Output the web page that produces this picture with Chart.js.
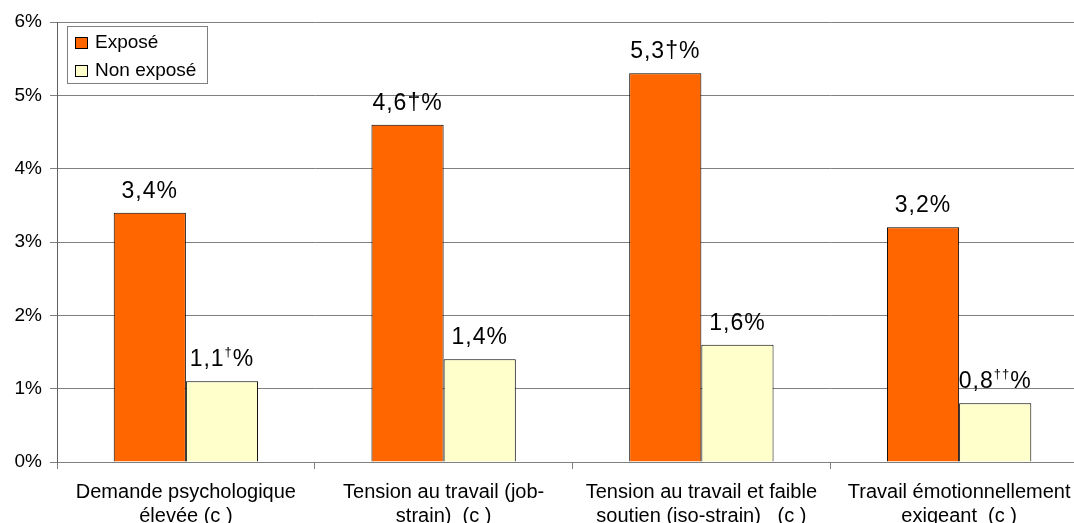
<!DOCTYPE html>
<html>
<head>
<meta charset="utf-8">
<script src="https://cdn.jsdelivr.net/npm/chart.js@4.4.1/dist/chart.umd.min.js"></script>
<style>
  html, body { margin: 0; padding: 0; background: #fff; overflow: hidden; }
  #wrap { width: 1088px; height: 523px; }
</style>
</head>
<body>
<div id="wrap"><canvas id="myChart"></canvas></div>
<script>
var categories = [
  ["Demande psychologique", "élevée (c )"],
  ["Tension au travail (job-", "strain)  (c )"],
  ["Tension au travail et faible", "soutien (iso-strain)   (c )"],
  ["Travail émotionnellement", "exigeant  (c )"]
];
var seriesNames = ["Exposé", "Non exposé"];
var exposeValues = [3.4, 4.6, 5.3, 3.2];
var nonExposeValues = [1.1, 1.4, 1.6, 0.8];
// marks after the values: inline for Exposé, superscript for Non exposé
var exposeNotes = ["", "†", "†", ""];
var nonExposeNotes = ["†", "", "", "††"];
var yTicks = [0, 1, 2, 3, 4, 5, 6];

var FONT = "'Liberation Sans', Arial, sans-serif";

function fmt(v) {
  return v.toFixed(1).replace('.', ',');
}

var valueLabels = {
  id: 'valueLabels',
  afterDatasetsDraw: function(chart) {
    var ctx = chart.ctx;
    ctx.save();
    ctx.fillStyle = '#000';
    ctx.textBaseline = 'alphabetic';
    ctx.textAlign = 'left';
    ctx.letterSpacing = '1px';
    var big = "23px " + FONT;
    var small = "13px " + FONT;
    chart.data.datasets.forEach(function(ds, di) {
      var meta = chart.getDatasetMeta(di);
      meta.data.forEach(function(bar, i) {
        var base = fmt(ds.data[i]);
        var y = bar.y - 15;
        if (di == 0) {
          ctx.font = big;
          var t = base + exposeNotes[i] + '%';
          var w = ctx.measureText(t).width;
          ctx.fillText(t, bar.x - w / 2, y);
        } else {
          var note = nonExposeNotes[i];
          ctx.font = big;
          var w1 = ctx.measureText(base).width;
          var w3 = ctx.measureText('%').width;
          ctx.font = small;
          var w2 = note ? ctx.measureText(note).width : 0;
          var x = bar.x - (w1 + w2 + w3) / 2;
          ctx.font = big;
          ctx.fillText(base, x, y);
          if (note) {
            ctx.font = small;
            ctx.fillText(note, x + w1, y - 10);
          }
          ctx.font = big;
          ctx.fillText('%', x + w1 + w2, y);
        }
      });
    });
    ctx.restore();
  }
};

var boxLegend = {
  id: 'boxLegend',
  afterDraw: function(chart) {
    var ctx = chart.ctx;
    var a = chart.chartArea;
    var x0 = a.left + 10, y0 = a.top + 4;
    ctx.save();
    ctx.fillStyle = '#fff';
    ctx.fillRect(x0, y0, 140, 57);
    ctx.strokeStyle = '#808080';
    ctx.lineWidth = 1;
    ctx.strokeRect(x0 + 0.5, y0 + 0.5, 140, 57);
    ctx.font = "19px " + FONT;
    ctx.textBaseline = 'middle';
    chart.data.datasets.forEach(function(ds, i) {
      var cy = y0 + 16 + i * 28;
      ctx.fillStyle = ds.backgroundColor;
      ctx.fillRect(x0 + 8, cy - 5, 12, 11);
      ctx.strokeStyle = '#000';
      ctx.strokeRect(x0 + 8.5, cy - 4.5, 12, 11);
      ctx.fillStyle = '#000';
      ctx.fillText(ds.label, x0 + 28, cy + 1);
    });
    ctx.restore();
  }
};

var ctx = document.getElementById("myChart").getContext('2d');
var myChart = new Chart(ctx, {
  type: 'bar',
  data: {
    labels: categories,
    datasets: [{
      label: seriesNames[0],
      data: exposeValues,
      backgroundColor: '#FF6600',
      borderColor: '#000',
      borderWidth: 1,
      barPercentage: 1,
      categoryPercentage: 0.56
    }, {
      label: seriesNames[1],
      data: nonExposeValues,
      backgroundColor: '#FFFFCC',
      borderColor: '#000',
      borderWidth: 1,
      barPercentage: 1,
      categoryPercentage: 0.56
    }]
  },
  options: {
    responsive: true,
    maintainAspectRatio: false,
    animation: { duration: 0 },
    layout: { padding: { top: 22, right: 0, left: 0, bottom: 0 } },
    plugins: {
      legend: { display: false },
      tooltip: { enabled: false }
    },
    scales: {
      x: {
        grid: {
          offset: true,
          drawOnChartArea: false,
          color: '#808080',
          tickLength: 7
        },
        border: { color: '#808080' },
        ticks: {
          color: '#000',
          padding: 11,
          maxRotation: 0,
          autoSkip: false,
          font: { family: FONT, size: 20, lineHeight: 1.2 }
        },
        afterFit: function(scale) { scale.height = 61; }
      },
      y: {
        min: 0,
        max: 6,
        afterBuildTicks: function(scale) {
          scale.ticks = yTicks.map(function(v) { return { value: v }; });
        },
        grid: {
          color: '#808080',
          tickLength: 7
        },
        border: { color: '#606060' },
        ticks: {
          color: '#000',
          padding: 8,
          font: { family: FONT, size: 19 },
          callback: function(v) { return v + '%'; }
        },
        afterFit: function(scale) { scale.width = 57; }
      }
    }
  },
  plugins: [valueLabels, boxLegend]
});
</script>
</body>
</html>
